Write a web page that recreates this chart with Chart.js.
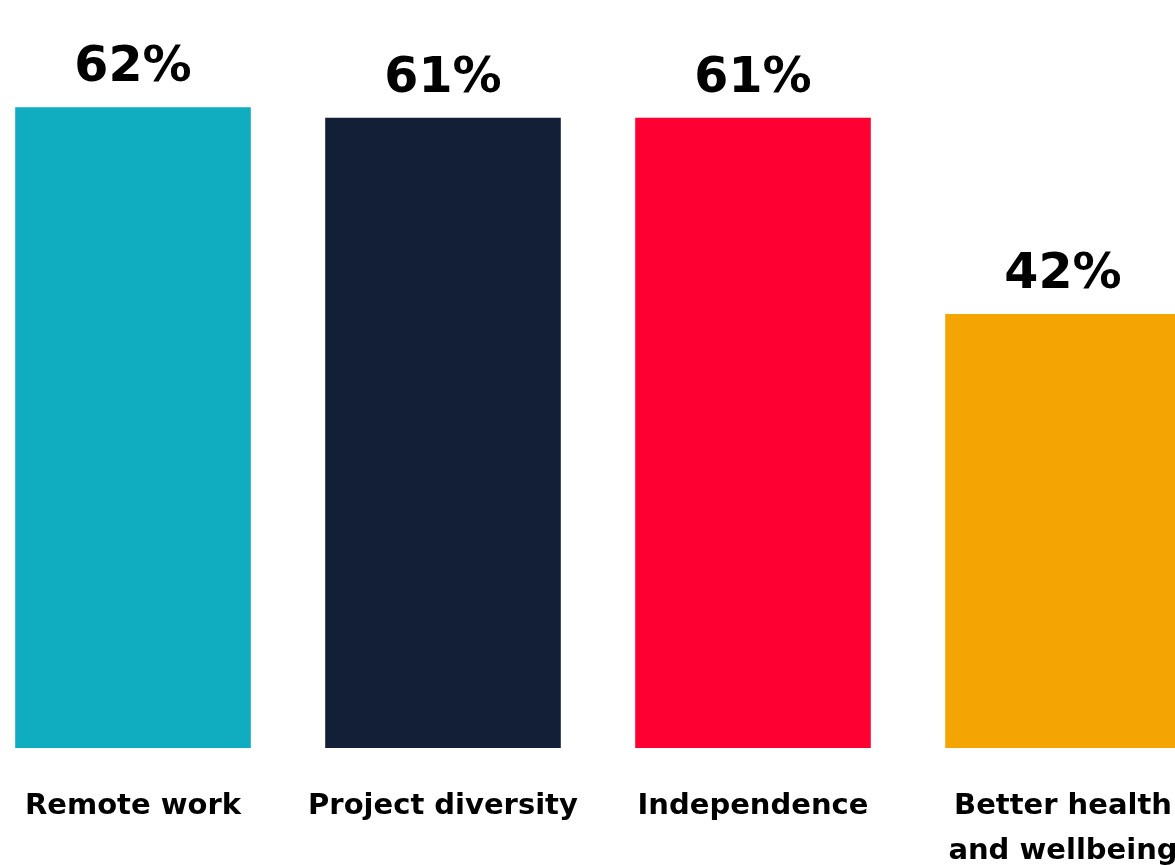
<!DOCTYPE html>
<html>
<head>
<meta charset="utf-8">
<script src="https://cdn.jsdelivr.net/npm/chart.js@4"></script>
<style>
  html, body { margin: 0; padding: 0; background: #fff; overflow: hidden; }
  #wrap { position: absolute; left: -22px; top: 0; width: 1240px; height: 910px; }
</style>
</head>
<body>
<div id="wrap"><canvas id="myChart"></canvas></div>
<script>
// data
var categories = ['Remote work', 'Project diversity', 'Independence', ['Better health', 'and wellbeing']];
var values = [62, 61, 61, 42];
var barColors = ['#10acc0', '#121f36', '#ff0033', '#f5a503'];

// draws "62%" over every bar
var valueLabels = {
    id: 'valueLabels',
    afterDatasetsDraw: function (chart) {
        var ctx = chart.ctx;
        var meta = chart.getDatasetMeta(0);
        ctx.save();
        ctx.fillStyle = '#000';
        ctx.font = 'bold 49px "DejaVu Sans"';
        ctx.textAlign = 'center';
        ctx.textBaseline = 'alphabetic';
        meta.data.forEach(function (bar, i) {
            ctx.fillText(values[i] + '%', bar.x, bar.y - 26);
        });
        ctx.restore();
    }
};

var ctx1 = document.getElementById('myChart');
var myChart = new Chart(ctx1, {
    type: 'bar',
    data: {
        labels: categories,
        datasets: [{
            data: values,
            backgroundColor: barColors,
            borderWidth: 0,
            barPercentage: 0.76,
            categoryPercentage: 1
        }]
    },
    options: {
        responsive: true,
        maintainAspectRatio: false,
        animation: false,
        layout: { padding: { top: 4, left: 0, right: 0, bottom: 0 } },
        plugins: {
            legend: { display: false },
            tooltip: { enabled: false }
        },
        scales: {
            x: {
                grid: { display: false, drawTicks: false },
                border: { display: false },
                ticks: {
                    color: '#000',
                    padding: 36,
                    maxRotation: 0,
                    autoSkip: false,
                    font: { family: 'DejaVu Sans', weight: 'bold', size: 29, lineHeight: 1.55 }
                }
            },
            y: {
                display: false,
                min: 0,
                max: 72
            }
        }
    },
    plugins: [valueLabels]
});
</script>
</body>
</html>
